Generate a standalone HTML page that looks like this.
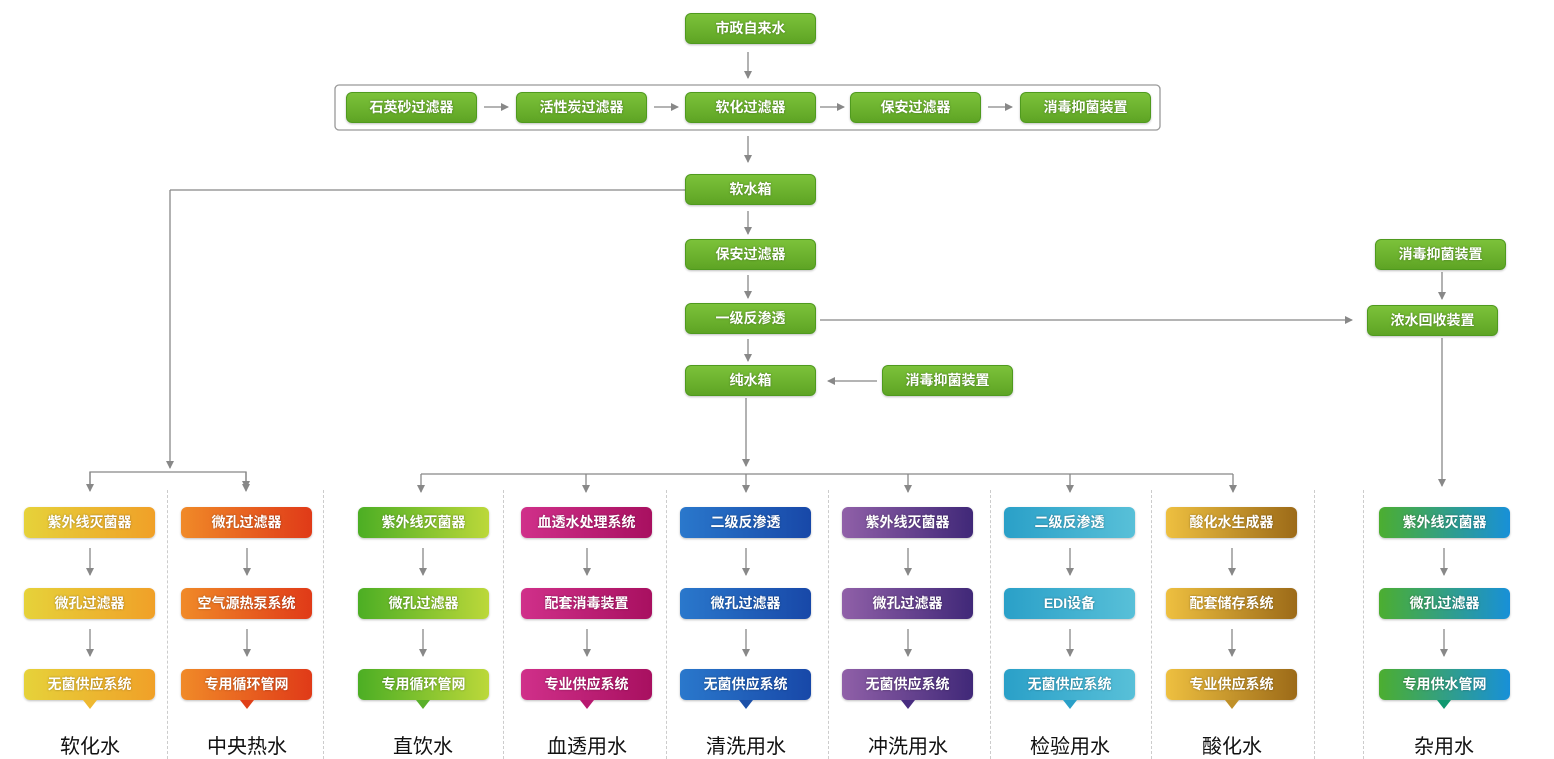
<!DOCTYPE html>
<html><head><meta charset="utf-8"><style>
body{margin:0;background:#fff;}
#c{position:relative;width:1554px;height:759px;overflow:hidden;font-family:"Liberation Sans","Noto Sans CJK SC",sans-serif;}
.b{position:absolute;width:131px;height:31px;border-radius:6px;color:#fff;font-size:14px;line-height:31px;text-align:center;font-weight:bold;text-shadow:0 0 2px rgba(0,0,0,.35);box-shadow:0 1px 2px rgba(0,0,0,.25);}
.g{background:linear-gradient(#7cc23a,#5ea424);border:1px solid #4f9a1e;width:129px;height:29px;line-height:29px;}
.l{position:absolute;text-align:center;width:160px;font-size:20px;color:#111;}
.t{position:absolute;width:0;height:0;border-left:7px solid transparent;border-right:7px solid transparent;border-top:9px solid;}
.s{position:absolute;top:490px;height:269px;border-left:1px dashed #ccc;}
</style></head><body><div id="c">
<svg width="1554" height="759" style="position:absolute;left:0;top:0">
<defs><marker id="a" markerWidth="8" markerHeight="8" refX="7" refY="4" orient="auto" markerUnits="userSpaceOnUse"><path d="M0,0 L8,4 L0,8z" fill="#888"/></marker></defs>
<g stroke="#888" stroke-width="1.3" fill="none">
<rect x="335" y="85" width="825" height="45" rx="4" stroke="#999"/>
<line x1="748" y1="52" x2="748" y2="78" marker-end="url(#a)"/>
<line x1="484" y1="107" x2="508" y2="107" marker-end="url(#a)"/>
<line x1="654" y1="107" x2="678" y2="107" marker-end="url(#a)"/>
<line x1="820" y1="107" x2="844" y2="107" marker-end="url(#a)"/>
<line x1="988" y1="107" x2="1012" y2="107" marker-end="url(#a)"/>
<line x1="748" y1="136" x2="748" y2="162" marker-end="url(#a)"/>
<line x1="748" y1="211" x2="748" y2="234" marker-end="url(#a)"/>
<line x1="748" y1="275" x2="748" y2="298" marker-end="url(#a)"/>
<line x1="748" y1="339" x2="748" y2="361" marker-end="url(#a)"/>
<line x1="685" y1="190" x2="170" y2="190"/>
<line x1="170" y1="190" x2="170" y2="468" marker-end="url(#a)"/>
<polyline points="90,488 90,472 246,472 246,488" marker-end="url(#a)"/>
<line x1="90" y1="472" x2="90" y2="491" marker-end="url(#a)"/>
<line x1="820" y1="320" x2="1352" y2="320" marker-end="url(#a)"/>
<line x1="1442" y1="272" x2="1442" y2="299" marker-end="url(#a)"/>
<line x1="1442" y1="338" x2="1442" y2="486" marker-end="url(#a)"/>
<line x1="877" y1="381" x2="828" y2="381" marker-end="url(#a)"/>
<line x1="746" y1="398" x2="746" y2="466" marker-end="url(#a)"/>
<line x1="421" y1="474" x2="1233" y2="474"/>
<line x1="421" y1="474" x2="421" y2="492" marker-end="url(#a)"/>
<line x1="586" y1="474" x2="586" y2="492" marker-end="url(#a)"/>
<line x1="746" y1="474" x2="746" y2="492" marker-end="url(#a)"/>
<line x1="908" y1="474" x2="908" y2="492" marker-end="url(#a)"/>
<line x1="1070" y1="474" x2="1070" y2="492" marker-end="url(#a)"/>
<line x1="1233" y1="474" x2="1233" y2="492" marker-end="url(#a)"/>
<line x1="246" y1="472" x2="246" y2="491" marker-end="url(#a)"/>
<g id="cols">
<line x1="90" y1="548" x2="90" y2="575" marker-end="url(#a)"/><line x1="90" y1="629" x2="90" y2="656" marker-end="url(#a)"/>
<line x1="247" y1="548" x2="247" y2="575" marker-end="url(#a)"/><line x1="247" y1="629" x2="247" y2="656" marker-end="url(#a)"/>
<line x1="423" y1="548" x2="423" y2="575" marker-end="url(#a)"/><line x1="423" y1="629" x2="423" y2="656" marker-end="url(#a)"/>
<line x1="587" y1="548" x2="587" y2="575" marker-end="url(#a)"/><line x1="587" y1="629" x2="587" y2="656" marker-end="url(#a)"/>
<line x1="746" y1="548" x2="746" y2="575" marker-end="url(#a)"/><line x1="746" y1="629" x2="746" y2="656" marker-end="url(#a)"/>
<line x1="908" y1="548" x2="908" y2="575" marker-end="url(#a)"/><line x1="908" y1="629" x2="908" y2="656" marker-end="url(#a)"/>
<line x1="1070" y1="548" x2="1070" y2="575" marker-end="url(#a)"/><line x1="1070" y1="629" x2="1070" y2="656" marker-end="url(#a)"/>
<line x1="1232" y1="548" x2="1232" y2="575" marker-end="url(#a)"/><line x1="1232" y1="629" x2="1232" y2="656" marker-end="url(#a)"/>
<line x1="1444" y1="548" x2="1444" y2="575" marker-end="url(#a)"/><line x1="1444" y1="629" x2="1444" y2="656" marker-end="url(#a)"/>
</g></g></svg>

<div class="s" style="left:167px"></div><div class="s" style="left:323px"></div><div class="s" style="left:503px"></div><div class="s" style="left:666px"></div><div class="s" style="left:828px"></div><div class="s" style="left:990px"></div><div class="s" style="left:1151px"></div><div class="s" style="left:1314px"></div><div class="s" style="left:1363px"></div>

<div class="b g" style="left:685px;top:13px">市政自来水</div>
<div class="b g" style="left:346px;top:92px">石英砂过滤器</div>
<div class="b g" style="left:516px;top:92px">活性炭过滤器</div>
<div class="b g" style="left:685px;top:92px">软化过滤器</div>
<div class="b g" style="left:850px;top:92px">保安过滤器</div>
<div class="b g" style="left:1020px;top:92px">消毒抑菌装置</div>
<div class="b g" style="left:685px;top:174px">软水箱</div>
<div class="b g" style="left:685px;top:239px">保安过滤器</div>
<div class="b g" style="left:685px;top:303px">一级反渗透</div>
<div class="b g" style="left:685px;top:365px">纯水箱</div>
<div class="b g" style="left:882px;top:365px">消毒抑菌装置</div>
<div class="b g" style="left:1375px;top:239px">消毒抑菌装置</div>
<div class="b g" style="left:1367px;top:305px">浓水回收装置</div>

<!-- col1 -->
<div class="b" style="left:24px;top:507px;background:linear-gradient(90deg,#e6d23a,#f0a028)">紫外线灭菌器</div>
<div class="b" style="left:24px;top:588px;background:linear-gradient(90deg,#e6d23a,#f0a028)">微孔过滤器</div>
<div class="b" style="left:24px;top:669px;background:linear-gradient(90deg,#e6d23a,#f0a028)">无菌供应系统</div>
<div class="t" style="left:83px;top:700px;border-top-color:#eeb830"></div>
<div class="l" style="left:10px;top:730px">软化水</div>
<!-- col2 -->
<div class="b" style="left:181px;top:507px;background:linear-gradient(90deg,#f08a28,#e03a18)">微孔过滤器</div>
<div class="b" style="left:181px;top:588px;background:linear-gradient(90deg,#f08a28,#e03a18)">空气源热泵系统</div>
<div class="b" style="left:181px;top:669px;background:linear-gradient(90deg,#f08a28,#e03a18)">专用循环管网</div>
<div class="t" style="left:240px;top:700px;border-top-color:#e04018"></div>
<div class="l" style="left:167px;top:730px">中央热水</div>
<!-- col3 -->
<div class="b" style="left:358px;top:507px;background:linear-gradient(90deg,#4cae24,#bcd83a)">紫外线灭菌器</div>
<div class="b" style="left:358px;top:588px;background:linear-gradient(90deg,#4cae24,#bcd83a)">微孔过滤器</div>
<div class="b" style="left:358px;top:669px;background:linear-gradient(90deg,#4cae24,#bcd83a)">专用循环管网</div>
<div class="t" style="left:416px;top:700px;border-top-color:#5ab02a"></div>
<div class="l" style="left:343px;top:730px">直饮水</div>
<!-- col4 -->
<div class="b" style="left:521px;top:507px;background:linear-gradient(90deg,#d0308a,#a81060)">血透水处理系统</div>
<div class="b" style="left:521px;top:588px;background:linear-gradient(90deg,#d0308a,#a81060)">配套消毒装置</div>
<div class="b" style="left:521px;top:669px;background:linear-gradient(90deg,#d0308a,#a81060)">专业供应系统</div>
<div class="t" style="left:580px;top:700px;border-top-color:#b81870"></div>
<div class="l" style="left:507px;top:730px">血透用水</div>
<!-- col5 -->
<div class="b" style="left:680px;top:507px;background:linear-gradient(90deg,#2a78cc,#1848a8)">二级反渗透</div>
<div class="b" style="left:680px;top:588px;background:linear-gradient(90deg,#2a78cc,#1848a8)">微孔过滤器</div>
<div class="b" style="left:680px;top:669px;background:linear-gradient(90deg,#2a78cc,#1848a8)">无菌供应系统</div>
<div class="t" style="left:739px;top:700px;border-top-color:#1c50a8"></div>
<div class="l" style="left:666px;top:730px">清洗用水</div>
<!-- col6 -->
<div class="b" style="left:842px;top:507px;background:linear-gradient(90deg,#9060a8,#402878)">紫外线灭菌器</div>
<div class="b" style="left:842px;top:588px;background:linear-gradient(90deg,#9060a8,#402878)">微孔过滤器</div>
<div class="b" style="left:842px;top:669px;background:linear-gradient(90deg,#9060a8,#402878)">无菌供应系统</div>
<div class="t" style="left:901px;top:700px;border-top-color:#482c80"></div>
<div class="l" style="left:828px;top:730px">冲洗用水</div>
<!-- col7 -->
<div class="b" style="left:1004px;top:507px;background:linear-gradient(90deg,#2aa0c8,#58c0d8)">二级反渗透</div>
<div class="b" style="left:1004px;top:588px;background:linear-gradient(90deg,#2aa0c8,#58c0d8)">EDI设备</div>
<div class="b" style="left:1004px;top:669px;background:linear-gradient(90deg,#2aa0c8,#58c0d8)">无菌供应系统</div>
<div class="t" style="left:1063px;top:700px;border-top-color:#2aa0c8"></div>
<div class="l" style="left:990px;top:730px">检验用水</div>
<!-- col8 -->
<div class="b" style="left:1166px;top:507px;background:linear-gradient(90deg,#eec040,#9c6a18)">酸化水生成器</div>
<div class="b" style="left:1166px;top:588px;background:linear-gradient(90deg,#eec040,#9c6a18)">配套储存系统</div>
<div class="b" style="left:1166px;top:669px;background:linear-gradient(90deg,#eec040,#9c6a18)">专业供应系统</div>
<div class="t" style="left:1225px;top:700px;border-top-color:#c09028"></div>
<div class="l" style="left:1152px;top:730px">酸化水</div>
<!-- col9 -->
<div class="b" style="left:1379px;top:507px;background:linear-gradient(90deg,#4cae30,#1890d8)">紫外线灭菌器</div>
<div class="b" style="left:1379px;top:588px;background:linear-gradient(90deg,#4cae30,#1890d8)">微孔过滤器</div>
<div class="b" style="left:1379px;top:669px;background:linear-gradient(90deg,#4cae30,#1890d8)">专用供水管网</div>
<div class="t" style="left:1437px;top:700px;border-top-color:#109870"></div>
<div class="l" style="left:1364px;top:730px">杂用水</div>
</div></body></html>
